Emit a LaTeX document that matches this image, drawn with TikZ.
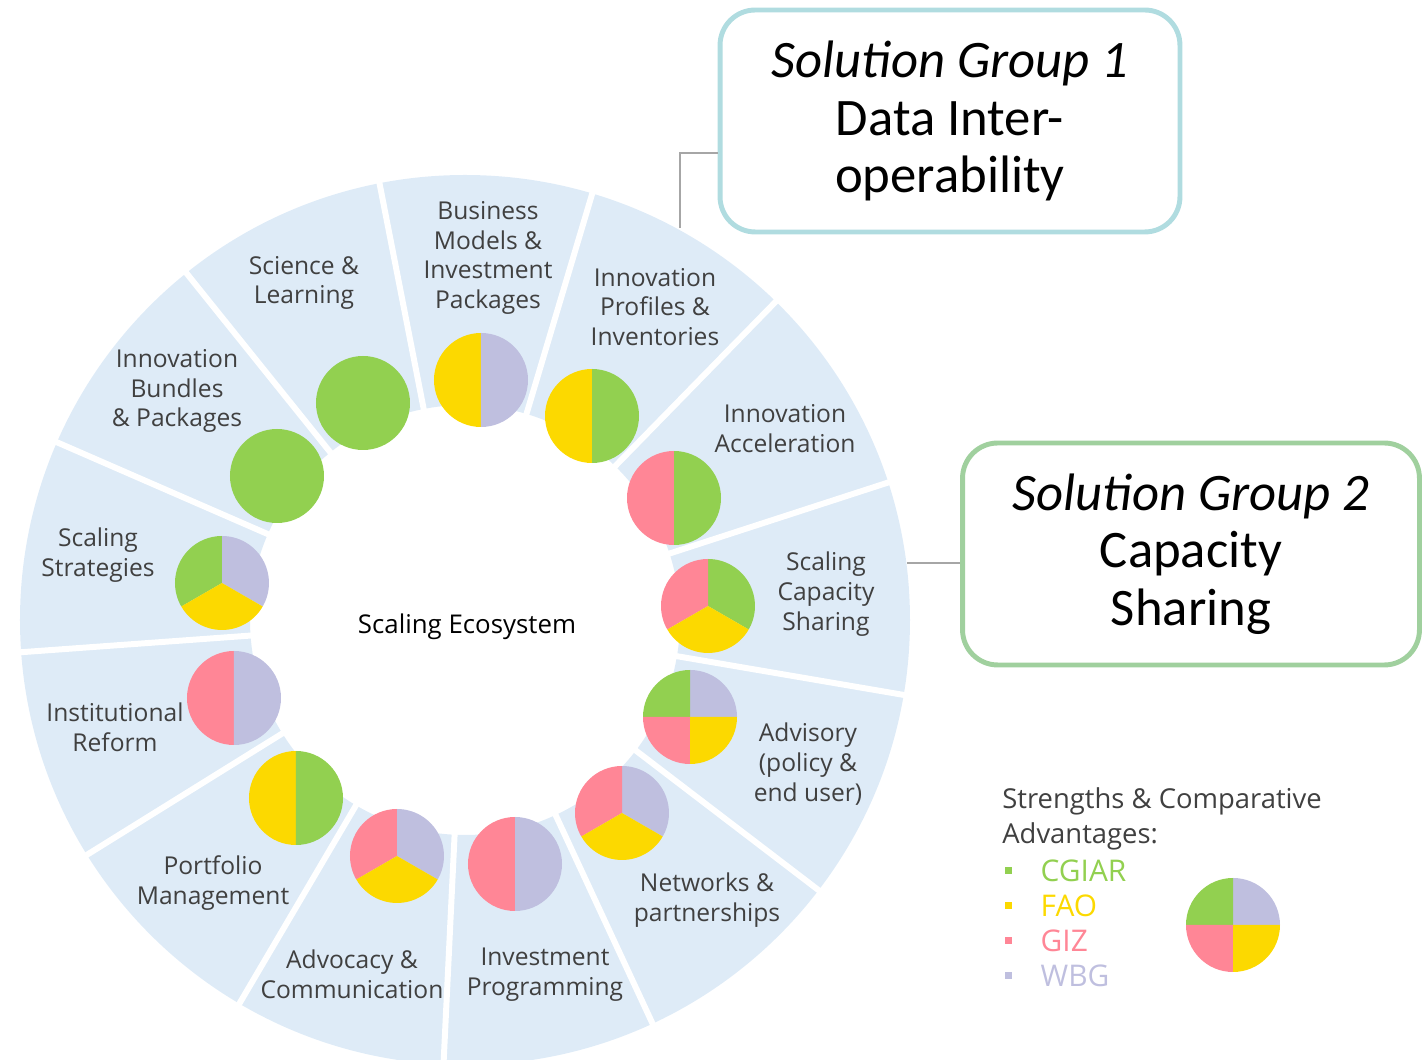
\documentclass[tikz,border=0pt]{standalone}
\usepackage{fontspec}
\setmainfont{Open Sans}
\newfontfamily\boxfont{Carlito}
\usetikzlibrary{positioning}

\definecolor{ringblue}{RGB}{222,235,247}
\definecolor{cgiar}{RGB}{146,208,80}
\definecolor{fao}{RGB}{252,217,0}
\definecolor{giz}{RGB}{255,134,150}
\definecolor{wbg}{RGB}{191,191,223}
\definecolor{labelgray}{RGB}{64,64,64}
\definecolor{linkgray}{RGB}{166,166,166}
\definecolor{sgteal}{RGB}{176,220,224}
\definecolor{sggreen}{RGB}{160,208,158}

% one wedge of a pie: centre, start angle, end angle, colour
\newcommand{\wedgefill}[4]{\fill[#4] (#1) -- ++(#2:47) arc[start angle=#2, end angle=#3, radius=47] -- cycle;}

\begin{document}
\begin{tikzpicture}[
    x=0.02cm, y=0.02cm,
    sep/.style={draw=white, line width=3.4pt},
    lbl/.style={align=center, text=labelgray, font=\fontsize{14}{17}\selectfont},
    sgbox/.style={rounded corners=20pt, line width=2.8pt, fill=white, align=center,
        minimum width=9.2cm, minimum height=4.44cm, font=\boxfont\fontsize{30}{32.8}\selectfont},
    link/.style={draw=linkgray, line width=1.1pt},
    bullet/.style={rectangle, minimum size=0.14cm, inner sep=0pt},
    keytext/.style={font=\fontsize{17}{20}\selectfont, inner sep=2pt}
]
\useasboundingbox (-465,-440) rectangle (958,620);

% Ring of thirteen segments
\fill[ringblue, even odd rule] (0,0) circle[radius=445] (0,0) circle[radius=215];
\foreach \a in {0,...,12} {
    \pgfmathsetmacro{\ang}{18-27.6923*\a}
    \draw[sep] (\ang:205) -- (\ang:455);
}

% Pie centres
\coordinate (piebm) at (16,240);
\coordinate (pieip) at (127,204);
\coordinate (pieia) at (209,122);
\coordinate (piesc) at (243,14);
\coordinate (piead) at (225,-97);
\coordinate (pienw) at (157,-193);
\coordinate (pieiv) at (50,-244);
\coordinate (pieac) at (-68,-236);
\coordinate (piepm) at (-169,-178);
\coordinate (pieir) at (-231,-78);
\coordinate (piess) at (-243,37);
\coordinate (pieib) at (-188,144);
\coordinate (piesl) at (-102,217);
\coordinate (piekey) at (768,-305);

% Pies
\wedgefill{piebm}{90}{270}{fao}
\wedgefill{piebm}{-90}{90}{wbg}
\wedgefill{pieip}{90}{270}{fao}
\wedgefill{pieip}{-90}{90}{cgiar}
\wedgefill{pieia}{90}{270}{giz}
\wedgefill{pieia}{-90}{90}{cgiar}
\wedgefill{piesc}{-30}{90}{cgiar}
\wedgefill{piesc}{90}{210}{giz}
\wedgefill{piesc}{210}{330}{fao}
\wedgefill{piead}{0}{90}{wbg}
\wedgefill{piead}{90}{180}{cgiar}
\wedgefill{piead}{180}{270}{giz}
\wedgefill{piead}{270}{360}{fao}
\wedgefill{pienw}{-30}{90}{wbg}
\wedgefill{pienw}{90}{210}{giz}
\wedgefill{pienw}{210}{330}{fao}
\wedgefill{pieiv}{90}{270}{giz}
\wedgefill{pieiv}{-90}{90}{wbg}
\wedgefill{pieac}{-30}{90}{wbg}
\wedgefill{pieac}{90}{210}{giz}
\wedgefill{pieac}{210}{330}{fao}
\wedgefill{piepm}{90}{270}{fao}
\wedgefill{piepm}{-90}{90}{cgiar}
\wedgefill{pieir}{90}{270}{giz}
\wedgefill{pieir}{-90}{90}{wbg}
\wedgefill{piess}{-30}{90}{wbg}
\wedgefill{piess}{90}{210}{cgiar}
\wedgefill{piess}{210}{330}{fao}
\fill[cgiar] (pieib) circle[radius=47];
\fill[cgiar] (piesl) circle[radius=47];
\wedgefill{piekey}{0}{90}{wbg}
\wedgefill{piekey}{90}{180}{cgiar}
\wedgefill{piekey}{180}{270}{giz}
\wedgefill{piekey}{270}{360}{fao}

% Segment labels
\node[lbl] (bizmodels) at (23,362) {Business\\Models \&\\Investment\\Packages};
\node[lbl] (profiles) at (190,313) {Innovation\\Profiles \&\\Inventories};
\node[lbl] (accel) at (320,191) {Innovation\\Acceleration};
\node[lbl] (capacity) at (361,26) {Scaling\\Capacity\\Sharing};
\node[lbl] (advisory) at (343,-144) {Advisory\\(policy \&\\end user)};
\node[lbl] (networks) at (242,-280) {Networks \&\\partnerships};
\node[lbl] (investprog) at (80,-355) {Investment\\Programming};
\node[lbl] (advocacy) at (-113,-354) {Advocacy \&\\Communication};
\node[lbl] (portfolio) at (-252,-263) {Portfolio\\Management};
\node[lbl] (reform) at (-350,-107) {Institutional\\Reform};
\node[lbl] (strategies) at (-367,65) {Scaling\\Strategies};
\node[lbl] (bundles) at (-288,229) {Innovation\\Bundles\\\& Packages};
\node[lbl] (science) at (-161,337) {Science \&\\Learning};
\node[lbl, text=black, font=\fontsize{14.7}{17}\selectfont] (ecosystem) at (2,-7) {Scaling Ecosystem};

% Solution group boxes
\coordinate (sgonebend) at (215,467);
\coordinate (sgonefoot) at (215,392);
\coordinate (sgtwofoot) at (442,57);
\node[sgbox, draw=sgteal] (sgone) at (485,499) {\textit{Solution Group 1}\\Data Inter-\\operability};
\node[sgbox, draw=sggreen, minimum width=9.14cm] (sgtwo) at (726,66) {\textit{Solution Group 2}\\Capacity\\Sharing};
\draw[link] (sgonebend -| sgone.west) -- (sgonebend) -- (sgonefoot);
\draw[link] (sgtwofoot -| sgtwo.west) -- (sgtwofoot);

% Legend
\node[anchor=west, align=left, text=labelgray, font=\fontsize{15.6}{19.5}\selectfont, inner sep=0pt] (keytitle) at (537,-199) {Strengths \& Comparative\\Advantages:};
\node[bullet, fill=cgiar] (dotcgiar) at (543,-251) {};
\node[bullet, fill=fao] (dotfao) at (543,-286) {};
\node[bullet, fill=giz] (dotgiz) at (543,-321) {};
\node[bullet, fill=wbg] (dotwbg) at (543,-356) {};
\node[keytext, text=cgiar, right=0.5cm of dotcgiar] (keycgiar) {CGIAR};
\node[keytext, text=fao, right=0.5cm of dotfao] (keyfao) {FAO};
\node[keytext, text=giz, right=0.5cm of dotgiz] (keygiz) {GIZ};
\node[keytext, text=wbg, right=0.5cm of dotwbg] (keywbg) {WBG};

\end{tikzpicture}
\end{document}
